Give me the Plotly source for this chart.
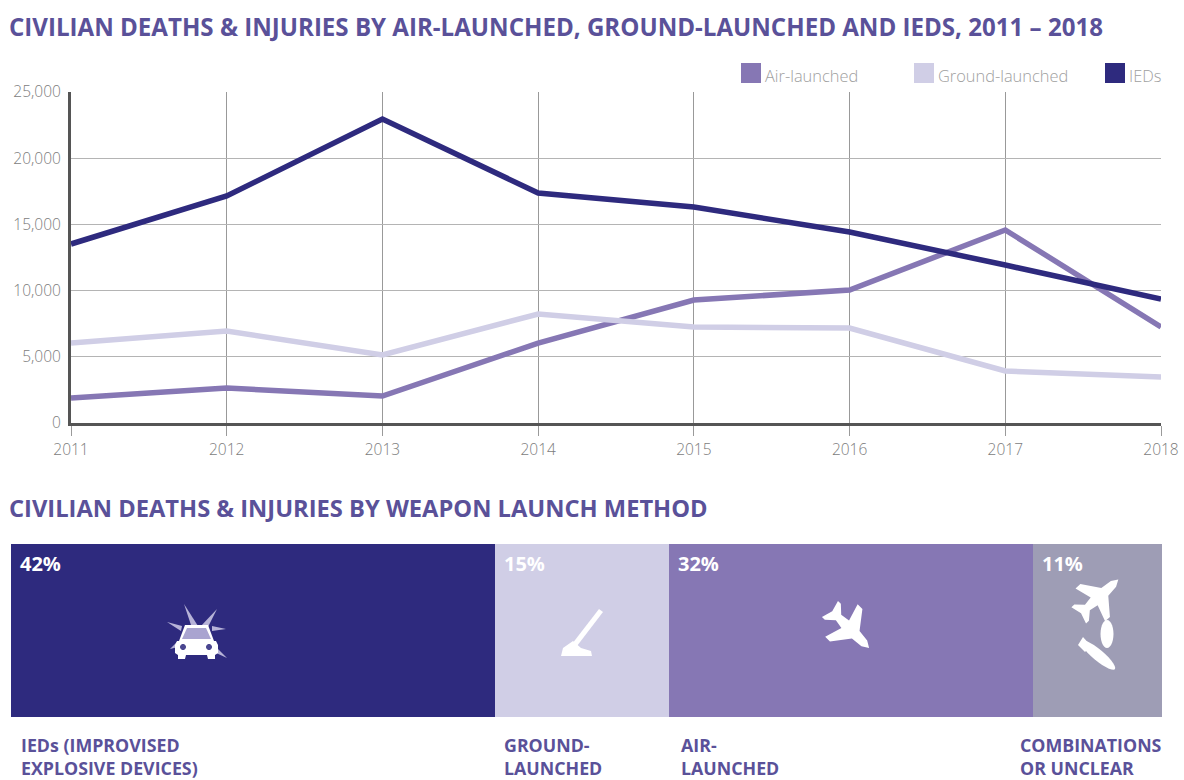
import math
import plotly.graph_objects as go

W, H = 1184, 780

years = [2011, 2012, 2013, 2014, 2015, 2016, 2017, 2018]
air_launched = [1890, 2640, 2040, 6040, 9290, 10045, 14580, 7250]
ground_launched = [6040, 6950, 5135, 8230, 7250, 7175, 3930, 3470]
ieds = [13520, 17145, 22960, 17370, 16310, 14425, 11930, 9365]

method_names = ["IEDs", "Ground-launched", "Air-launched", "Combinations or unclear"]
method_shares = [42.05, 15.1, 31.65, 11.2]
method_pct_labels = ["42%", "15%", "32%", "11%"]
method_captions_line1 = ["IEDs (IMPROVISED", "GROUND-", "AIR-", "COMBINATIONS"]
method_captions_line2 = ["EXPLOSIVE DEVICES)", "LAUNCHED", "LAUNCHED", "OR UNCLEAR"]

NAVY, LILAC, PURPLE, GREY = "#2e2a7e", "#d0cee6", "#8677b4", "#9e9db5"
HEAD = "#5a5199"
BODY_FONT = "Open Sans"
TICK_FONT = dict(size=15.5, color="#7c7c7c", family=BODY_FONT, weight=300)


def px(x):
    return x / W


def py(y):
    return 1 - y / H


def poly(points, fill="white", opacity=1):
    d = "M " + " L ".join(f"{px(x):.5f},{py(y):.5f}" for x, y in points) + " Z"
    return dict(type="path", xref="paper", yref="paper", path=d, fillcolor=fill,
                line=dict(width=0), opacity=opacity, layer="above")


def plane(cx, cy, size, angle):
    half = [(1, 0), (0.75, 0.15), (0.3, 0.2), (-0.2, 0.85), (-0.45, 0.85), (-0.25, 0.2),
            (-0.6, 0.14), (-0.9, 0.42), (-1.05, 0.42), (-0.93, 0)]
    pts = half + [(x, -y) for x, y in reversed(half[1:-1])]
    a = math.radians(angle)
    return poly([(cx + size * (x * math.cos(a) - y * math.sin(a)),
                  cy + size * (x * math.sin(a) + y * math.cos(a))) for x, y in pts])


def ellipse(cx, cy, rx, ry, angle=0, fill="white"):
    a = math.radians(angle)
    pts = []
    for i in range(28):
        t = 2 * math.pi * i / 28
        x, y = rx * math.cos(t), ry * math.sin(t)
        pts.append((cx + x * math.cos(a) - y * math.sin(a), cy + x * math.sin(a) + y * math.cos(a)))
    return poly(pts, fill)


fig = go.Figure()
for name, vals, col in [("Air-launched", air_launched, PURPLE),
                        ("Ground-launched", ground_launched, LILAC),
                        ("IEDs", ieds, NAVY)]:
    fig.add_trace(go.Scatter(x=years, y=vals, name=name, mode="lines",
                             line=dict(color=col, width=5.5), xaxis="x", yaxis="y", showlegend=False))

for name, share, col in zip(method_names, method_shares, [NAVY, LILAC, PURPLE, GREY]):
    fig.add_trace(go.Bar(y=[0], x=[share], name=name, orientation="h", width=1,
                         marker=dict(color=col, line=dict(width=0)), xaxis="x2", yaxis="y2", showlegend=False))

annotations = []
HEAD_FONT = dict(family=BODY_FONT, color=HEAD, weight=700)


def text(x, y, s, font):
    annotations.append(dict(xref="paper", yref="paper", x=px(x), y=py(y), text=s,
                            showarrow=False, xanchor="left", yanchor="middle", align="left",
                            font=font, borderpad=0, borderwidth=0))


text(9, 27, "CIVILIAN DEATHS &amp; INJURIES BY AIR-LAUNCHED, GROUND-LAUNCHED AND IEDS, 2011 – 2018", dict(HEAD_FONT, size=24.1))
text(9, 508, "CIVILIAN DEATHS &amp; INJURIES BY WEAPON LAUNCH METHOD", dict(HEAD_FONT, size=23.7))

# legend
shapes = []
for x0, col, label in [(741, PURPLE, "Air-launched"), (914, LILAC, "Ground-launched"), (1105, NAVY, "IEDs")]:
    shapes.append(dict(type="rect", xref="paper", yref="paper", x0=px(x0), x1=px(x0 + 20), y0=py(83), y1=py(63),
                       fillcolor=col, line=dict(width=0)))
    text(x0 + 24, 75, label, dict(size=16.4, color="#a0a0a0", family=BODY_FONT, weight=300))

# bar labels, anchored to the stacked-bar scale
left = 0
caption_x = [21, 504, 681, 1020]
for share, pct, line1, line2, cx in zip(method_shares, method_pct_labels, method_captions_line1, method_captions_line2, caption_x):
    annotations.append(dict(xref="x2", yref="paper", x=left, y=py(563), text=f"<b>{pct}</b>", showarrow=False,
                            xanchor="left", yanchor="middle", xshift=7,
                            font=dict(size=20, color="white", family=BODY_FONT)))
    text(cx, 745, line1, dict(HEAD_FONT, size=17.8))
    text(cx, 768, line2, dict(HEAD_FONT, size=17.8))
    left += share

# car icon
for ray in [[(184, 604), (192, 628), (198, 626)], [(217, 609), (201, 626), (207, 629)],
            [(167, 622), (182, 626), (181, 631)], [(226, 629), (212, 626), (212, 631)],
            [(170, 649), (178, 641), (178, 647)], [(227, 658), (214, 645), (214, 652)]]:
    shapes.append(poly(ray, "#cfcbe8", 0.85))
shapes.append(poly([(179, 641), (185, 625), (208, 625), (214, 641)], "white"))
shapes.append(poly([(182, 639), (187, 628), (206, 628), (211, 639)], "#a9a4d0"))
shapes.append(poly([(177, 641), (216, 641), (218, 645), (218, 653), (215, 655), (215, 659), (208, 659),
                    (207, 655), (186, 655), (185, 659), (178, 659), (178, 655), (175, 653), (175, 645)]))
for cx in (183, 209):
    shapes.append(ellipse(cx, 647, 3, 3, fill="#4a4690"))

# launcher icon
shapes.append(poly([(599, 609), (603, 612), (577, 646), (572, 644)]))
shapes.append(poly([(561, 656), (563, 648), (573, 641), (581, 648), (591, 651), (592, 656)]))

# aircraft and munitions
shapes.append(plane(850, 629, 27, 45))
shapes.append(plane(1099, 597, 26, -42))
shapes.append(ellipse(1107, 634, 6.5, 14))
shapes.append(ellipse(1098, 655, 22, 5.5, 40))
shapes.append(poly([(1078, 645), (1083, 637), (1091, 646), (1085, 652)]))

fig.update_layout(
    width=W, height=H, autosize=False, margin=dict(l=0, r=0, t=0, b=0, autoexpand=False),
    paper_bgcolor="white", plot_bgcolor="white", barmode="stack", bargap=0,
    annotations=annotations, shapes=shapes, showlegend=False,
    font=dict(family=BODY_FONT, color="#8a8a8a"),
    xaxis=dict(domain=[px(71), px(1161)], range=[2011, 2018], tickmode="array", tickvals=years,
               ticks="outside", ticklen=10, tickcolor="#9a9a9a", tickwidth=1, ticklabelstandoff=0,
               tickfont=TICK_FONT,
               showgrid=True, gridcolor="#999999", gridwidth=1.2, zeroline=False,
               showline=True, linecolor="#555555", linewidth=3, anchor="y"),
    yaxis=dict(domain=[py(423), py(92)], range=[0, 25000], tickmode="array",
               tickvals=[0, 5000, 10000, 15000, 20000, 25000],
               ticktext=["0", "5,000", "10,000", "15,000", "20,000", "25,000"],
               ticks="", ticklabelstandoff=4, tickfont=TICK_FONT,
               showgrid=True, gridcolor="#b4b4b4", gridwidth=1.2, zeroline=False,
               showline=True, linecolor="#555555", linewidth=3, anchor="x"),
    xaxis2=dict(domain=[px(11), px(1162)], range=[0, 100], visible=False, anchor="y2"),
    yaxis2=dict(domain=[py(717), py(544)], range=[-0.5, 0.5], visible=False, anchor="x2"),
)

POST = """
document.body.style.margin='0';document.body.style.overflow='hidden';
document.querySelectorAll('.annotation-text').forEach(function(t){
  if ((t.style.fontWeight||'')=='700') t.style.fontStretch = '88%';
});
"""
fig.write_html("out.html", config=dict(displayModeBar=False), post_script=POST)
